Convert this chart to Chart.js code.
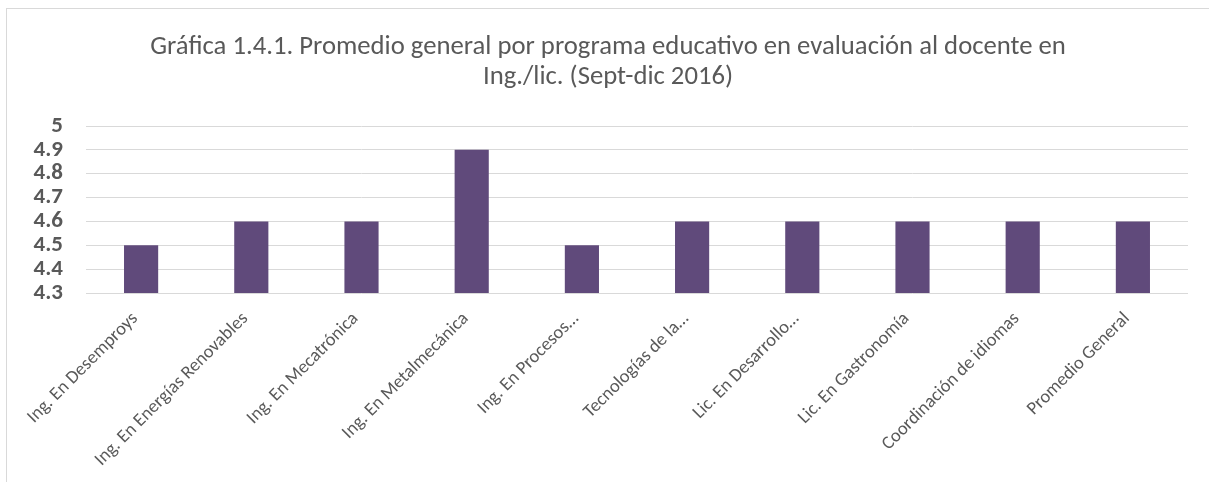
<!DOCTYPE html>
<html>
<head>
<meta charset="utf-8">
<script src="https://cdn.jsdelivr.net/npm/chart.js@4/dist/chart.umd.min.js"></script>
<style>
  html, body { margin: 0; padding: 0; background: #fff; overflow: hidden; }
  #frame {
    position: absolute; left: 6px; top: 8px;
    width: 1210px; height: 480px;
    border: 1px solid #d9d9d9;
  }
  #wrap { position: absolute; left: 0; top: 0; width: 1202px; height: 473px; }
</style>
</head>
<body>
<div id="frame">
  <div id="wrap"><canvas id="myChart"></canvas></div>
</div>
<script>
// Datos de la gráfica
const programas = [
  'Ing. En Desemproys',
  'Ing. En Energías Renovables',
  'Ing. En Mecatrónica',
  'Ing. En Metalmecánica',
  'Ing. En Procesos…',
  'Tecnologías de la…',
  'Lic. En Desarrollo…',
  'Lic. En Gastronomía',
  'Coordinación de idiomas',
  'Promedio General'
];
const promedios = [4.5, 4.6, 4.6, 4.9, 4.5, 4.6, 4.6, 4.6, 4.6, 4.6];
const tituloLineas = [
  'Gráfica 1.4.1. Promedio general por programa educativo en evaluación al docente en',
  'Ing./lic. (Sept-dic 2016)'
];
const yMin = 4.3, yMax = 5, yStep = 0.1;

const fontFam = "Calibri, Carlito, 'Open Sans', sans-serif";
const gris = '#595959';

new Chart(document.getElementById('myChart').getContext('2d'), {
  type: 'bar',
  data: {
    labels: programas,
    datasets: [{
      data: promedios,
      backgroundColor: '#604A7B',
      borderWidth: 0,
      barPercentage: 0.31,
      categoryPercentage: 1
    }]
  },
  options: {
    responsive: true,
    maintainAspectRatio: false,
    animation: false,
    layout: { padding: 0 },
    plugins: {
      legend: { display: false },
      tooltip: { enabled: false },
      title: {
        display: true,
        text: tituloLineas,
        color: gris,
        font: { family: fontFam, size: 26.7, weight: 'normal', lineHeight: '30px' },
        padding: { top: 23, bottom: 34 }
      }
    },
    scales: {
      x: {
        grid: { display: false },
        border: { display: false },
        ticks: {
          color: gris,
          autoSkip: false,
          minRotation: 45,
          maxRotation: 45,
          padding: 7,
          labelOffset: -6,
          font: { family: fontFam, size: 18.5 }
        },
        afterFit: (scale) => { scale.height = 189; }
      },
      y: {
        min: yMin,
        max: yMax,
        grid: { color: '#d9d9d9', lineWidth: 1, drawTicks: false },
        border: { display: false },
        ticks: {
          stepSize: yStep,
          autoSkip: false,
          color: gris,
          padding: 23,
          font: { family: fontFam, size: 23, weight: 'bold' },
          callback: (v) => +v.toFixed(1)
        },
        afterFit: (scale) => { scale.width = 79; }
      },
      // margen derecho vacio, asi el titulo queda centrado en todo el lienzo
      margen: {
        position: 'right',
        grid: { display: false, drawTicks: false },
        border: { display: false },
        ticks: { display: false },
        afterFit: (scale) => { scale.width = 21; }
      }
    }
  }
});
</script>
</body>
</html>
